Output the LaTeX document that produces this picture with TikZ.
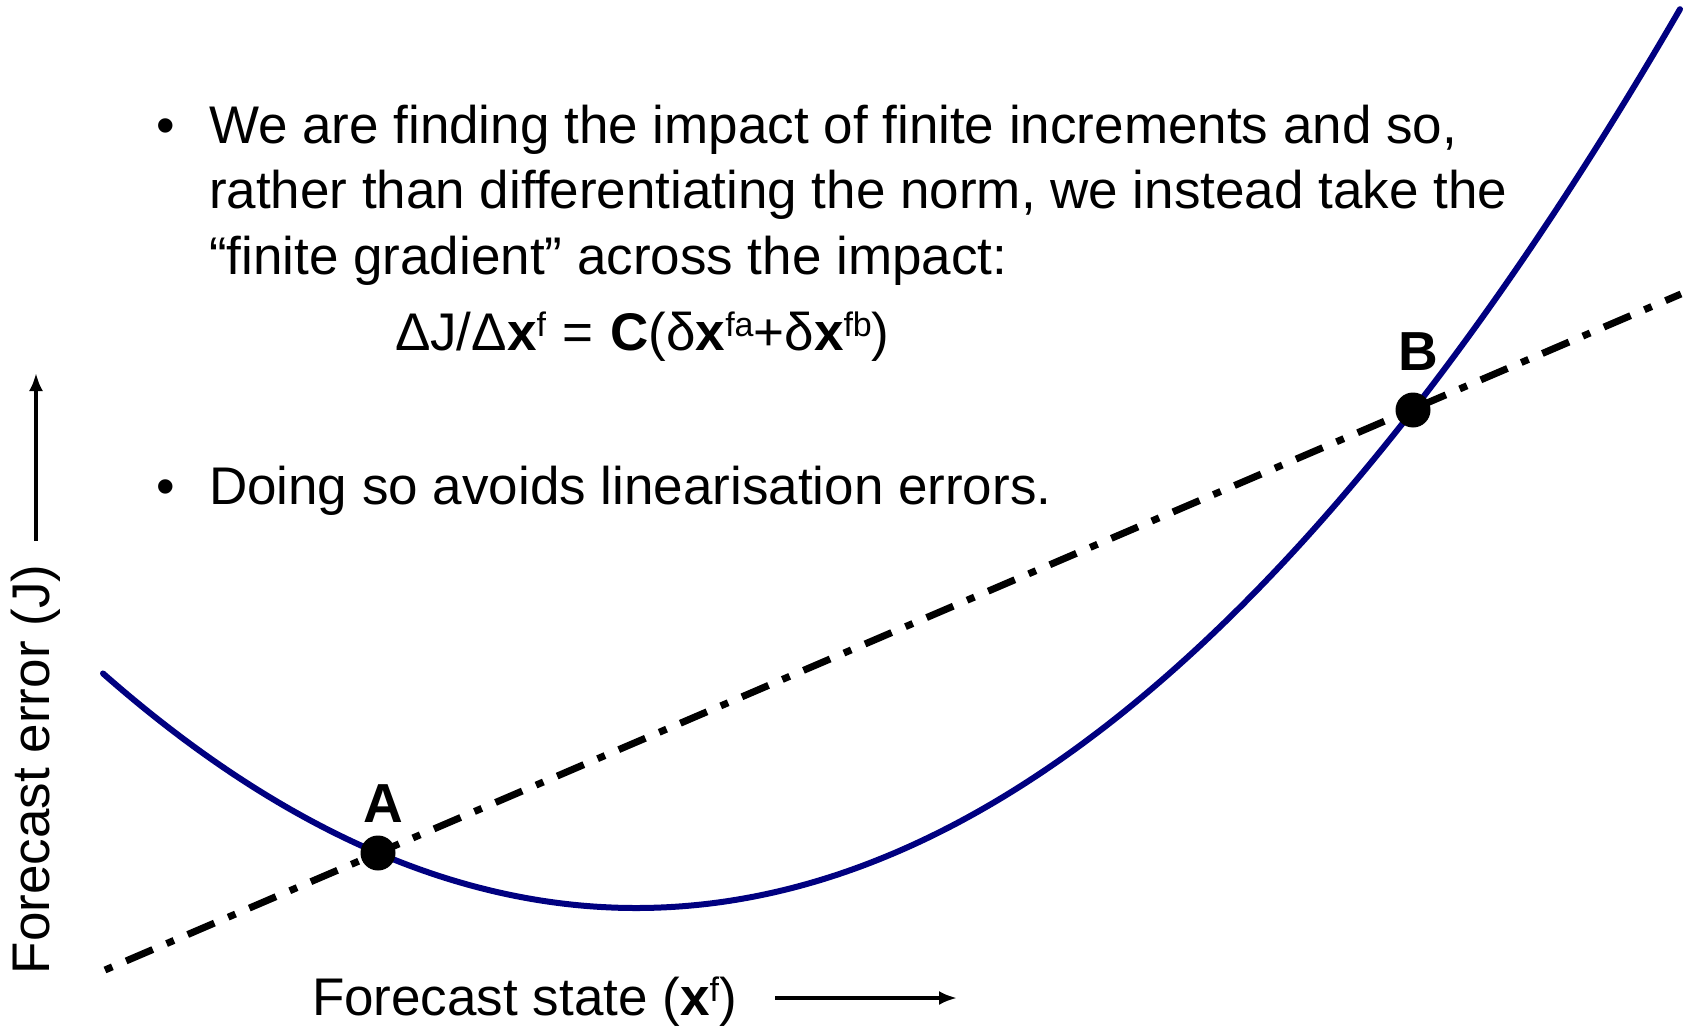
\documentclass[tikz,border=0pt]{standalone}
\usepackage{fontspec}
\setmainfont{Liberation Sans}
\usetikzlibrary{arrows.meta}
\definecolor{curvenavy}{RGB}{0,0,128}
\newcommand\mysup[1]{\raisebox{14pt}{\fontsize{34}{34}\selectfont #1}}
\begin{document}
\begin{tikzpicture}[x=1pt,y=-1pt,
  every node/.style={inner sep=0pt,outer sep=0pt},
  bodytext/.style={font=\fontsize{53}{65}\selectfont,anchor=base west},
  bulletmark/.style={font=\fontsize{53}{65}\selectfont,anchor=base},
  ptlabel/.style={font=\fontsize{55}{60}\selectfont\bfseries,anchor=base},
  ptdot/.style={circle,fill=black,minimum size=35pt},
  curvestyle/.style={draw=curvenavy,line width=6pt,line cap=round,line join=round},
  chordstyle/.style={draw=black,line width=7pt,dash pattern=on 8pt off 15pt on 29pt off 15pt},
  axisarrow/.style={draw=black,line width=3.5pt,-{Latex[length=18pt,width=14pt]}}]
\useasboundingbox (0,0) rectangle (1697,1027);

% texts
\node[bulletmark] (b1) at (166,144) {•};
\node[bodytext] (t1) at (209,144) {We are finding the impact of finite increments and so,};
\node[bodytext] (t2) at (209,209) {rather than differentiating the norm, we instead take the};
\node[bodytext] (t3) at (209,274) {“finite gradient” across the impact:};
\node[bodytext] (eq) at (395,350) {ΔJ/Δ\textbf{x}\mysup{f}\hspace{2pt} = \hspace{2pt}\textbf{C}(δ\textbf{x}\mysup{fa}+δ\textbf{x}\mysup{fb})};
\node[bulletmark] (b2) at (166,504) {•};
\node[bodytext] (t4) at (209,504) {Doing so avoids linearisation errors.};

% axes labels
\node[bodytext,rotate=90] (ylab) at (49,974) {Forecast error (J)};
\coordinate (ya0) at (36,541);
\coordinate (ya1) at (36,373);
\draw[axisarrow] (ya0) -- (ya1);
\node[bodytext] (xlab) at (312,1015) {Forecast state (\textbf{x}\mysup{f})};
\coordinate (xa0) at (775,998);
\coordinate (xa1) at (957,998);
\draw[axisarrow] (xa0) -- (xa1);

% points
\coordinate (Apos) at (378,853);
\coordinate (Bpos) at (1413,410);

% curve (parabola through A and B)
\draw[curvestyle] plot[domain=103:1680,samples=160,smooth] (\x,{908-825*((\x-636.2)/1000)^2});

% chord
\coordinate (L0) at (105,970);
\coordinate (L1) at (1681,294);
\draw[chordstyle] (L0) -- (L1);

% dots and labels
\node[ptdot] (A) at (Apos) {};
\node[ptdot] (B) at (Bpos) {};
\node[ptlabel] (Alab) at (383,822) {A};
\node[ptlabel] (Blab) at (1418,370) {B};
\end{tikzpicture}
\end{document}
